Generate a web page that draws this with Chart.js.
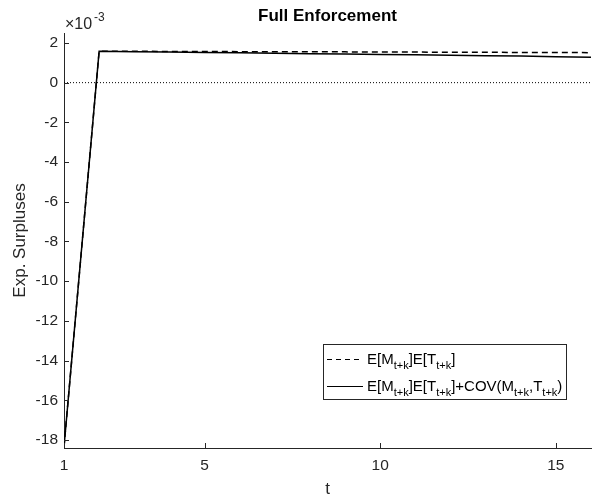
<!DOCTYPE html>
<html>
<head>
<meta charset="utf-8">
<script src="https://cdn.jsdelivr.net/npm/chart.js@4/dist/chart.umd.min.js"></script>
<style>
  html, body { margin: 0; padding: 0; background: #fff; }
  #wrap { width: 611px; height: 500px; }
</style>
</head>
<body>
<div id="wrap"><canvas id="c" width="611" height="500"></canvas></div>
<script>
// values in units of 1e-3
const periods = [1, 2, 3, 4, 5, 6, 7, 8, 9, 10, 11, 12, 13, 14, 15, 16];
const expProduct = [-18.35, 1.58, 1.58, 1.57, 1.57, 1.56, 1.56, 1.55, 1.55, 1.54, 1.54, 1.53, 1.53, 1.52, 1.52, 1.51];
const expProductCov = [-18.35, 1.58, 1.56, 1.54, 1.52, 1.50, 1.48, 1.46, 1.44, 1.42, 1.40, 1.38, 1.36, 1.34, 1.31, 1.28];
const zeroLine = [0, 0, 0, 0, 0, 0, 0, 0, 0, 0, 0, 0, 0, 0, 0, 0];
const xTicks = [1, 5, 10, 15];
const yTicks = [-18, -16, -14, -12, -10, -8, -6, -4, -2, 0, 2];

const FONT = 'Liberation Sans, Arial, Helvetica, sans-serif';

const toPts = (ys) => periods.map((t, i) => ({x: t, y: ys[i]}));

/* draws inward ticks, title, axis labels, exponent and the legend box */
const matlabLook = {
    id: 'matlabLook',
    afterDraw(chart) {
        const ctx = chart.ctx;
        const xs = chart.scales.x, ys = chart.scales.y;
        const a = chart.chartArea;
        ctx.save();
        ctx.strokeStyle = '#262626';
        ctx.lineWidth = 1;
        ctx.beginPath();
        xTicks.forEach(v => {
            const px = Math.round(xs.getPixelForValue(v)) + 0.5;
            ctx.moveTo(px, a.bottom);
            ctx.lineTo(px, a.bottom - 5);
        });
        yTicks.forEach(v => {
            const py = Math.round(ys.getPixelForValue(v)) + 0.5;
            ctx.moveTo(a.left, py);
            ctx.lineTo(a.left + 5, py);
        });
        ctx.stroke();

        ctx.fillStyle = '#000';
        ctx.textAlign = 'center';
        ctx.textBaseline = 'alphabetic';
        ctx.font = 'bold 17px ' + FONT;
        ctx.fillText('Full Enforcement', (a.left + a.right) / 2, 21);

        ctx.fillStyle = '#262626';
        ctx.font = '17px ' + FONT;
        ctx.fillText('t', (a.left + a.right) / 2, 494);

        ctx.save();
        ctx.translate(25, (a.top + a.bottom) / 2);
        ctx.rotate(-Math.PI / 2);
        ctx.fillText('Exp. Surpluses', 0, 0);
        ctx.restore();

        ctx.textAlign = 'left';
        ctx.font = '16px ' + FONT;
        ctx.fillText('\u00d710', 65, 29);
        ctx.font = '12px ' + FONT;
        ctx.fillText('-3', 94, 21);

        // legend
        const lx = 323, ly = 344, lw = 243, lh = 55;
        ctx.fillStyle = '#fff';
        ctx.fillRect(lx, ly, lw, lh);
        ctx.strokeStyle = '#262626';
        ctx.lineWidth = 1;
        ctx.strokeRect(lx + 0.5, ly + 0.5, lw, lh);

        const rows = [
            {dash: [5, 4], parts: [['E[M', 0], ['t+k', 1], [']E[T', 0], ['t+k', 1], [']', 0]]},
            {dash: [], parts: [['E[M', 0], ['t+k', 1], [']E[T', 0], ['t+k', 1], [']+COV(M', 0], ['t+k', 1], [',T', 0], ['t+k', 1], [')', 0]]}
        ];
        rows.forEach((r, i) => {
            const cy = ly + 15 + i * 27;
            ctx.strokeStyle = '#000';
            ctx.setLineDash(r.dash);
            ctx.beginPath();
            ctx.moveTo(lx + 4, cy + 0.5);
            ctx.lineTo(lx + 40, cy + 0.5);
            ctx.stroke();
            ctx.setLineDash([]);
            let tx = lx + 44;
            ctx.fillStyle = '#000';
            r.parts.forEach(([s, sub]) => {
                ctx.font = (sub ? '11px ' : '15px ') + FONT;
                ctx.fillText(s, tx, cy + (sub ? 10 : 5));
                tx += ctx.measureText(s).width;
            });
        });
        ctx.restore();
    }
};

new Chart(document.getElementById('c'), {
    type: 'line',
    data: {
        datasets: [{
            label: 'zero',
            data: toPts(zeroLine),
            borderColor: '#000',
            borderWidth: 1,
            borderDash: [1, 2],
            pointRadius: 0,
            fill: false,
        }, {
            label: 'E[M]E[T]',
            data: toPts(expProduct),
            borderColor: '#000',
            borderWidth: 1.5,
            borderDash: [6, 4],
            pointRadius: 0,
            fill: false,
        }, {
            label: 'E[M]E[T]+COV(M,T)',
            data: toPts(expProductCov),
            borderColor: '#000',
            borderWidth: 1.5,
            pointRadius: 0,
            fill: false,
        }]
    },
    options: {
        responsive: false,
        animation: false,
        layout: {padding: {top: 33, right: 20, left: 0, bottom: 0}},
        plugins: {legend: {display: false}, tooltip: {enabled: false}, title: {display: false}},
        scales: {
            x: {
                type: 'linear',
                min: 1,
                max: 16,
                afterBuildTicks: s => { s.ticks = xTicks.map(v => ({value: v})); },
                afterFit: s => { s.height = 52; },
                grid: {display: false, drawTicks: false},
                border: {display: true, color: '#262626', width: 1},
                ticks: {color: '#262626', font: {size: 15.5, family: FONT}, padding: 8, maxRotation: 0, autoSkip: false},
            },
            y: {
                type: 'linear',
                min: -18.4,
                max: 2.5,
                afterBuildTicks: s => { s.ticks = yTicks.map(v => ({value: v})); },
                afterFit: s => { s.width = 64; },
                grid: {display: false, drawTicks: false},
                border: {display: true, color: '#262626', width: 1},
                ticks: {color: '#262626', font: {size: 15.5, family: FONT}, padding: 6, autoSkip: false},
            }
        }
    },
    plugins: [matlabLook]
});
</script>
</body>
</html>
